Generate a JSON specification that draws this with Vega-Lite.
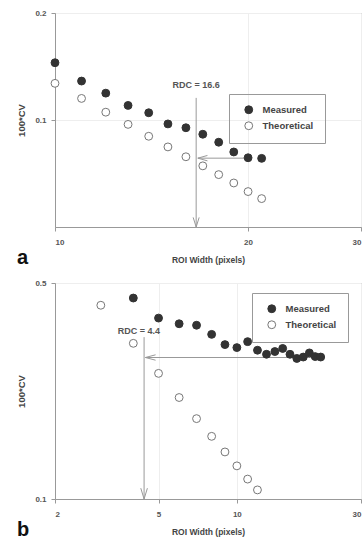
{
  "$schema": "https://vega.github.io/schema/vega-lite/v6.json",
  "padding": {"left": 16, "top": 8, "right": 0, "bottom": 0},
  "background": "white",
  "spacing": 10,
  "datasets": {
    "a_pts": [
      {"w": 10, "cv": 0.1449, "Series": "Measured"},
      {"w": 11, "cv": 0.1287, "Series": "Measured"},
      {"w": 12, "cv": 0.119, "Series": "Measured"},
      {"w": 13, "cv": 0.1099, "Series": "Measured"},
      {"w": 14, "cv": 0.1048, "Series": "Measured"},
      {"w": 15, "cv": 0.0975, "Series": "Measured"},
      {"w": 16, "cv": 0.0951, "Series": "Measured"},
      {"w": 17, "cv": 0.0912, "Series": "Measured"},
      {"w": 18, "cv": 0.0866, "Series": "Measured"},
      {"w": 19, "cv": 0.0813, "Series": "Measured"},
      {"w": 20, "cv": 0.0783, "Series": "Measured"},
      {"w": 21, "cv": 0.078, "Series": "Measured"},
      {"w": 10, "cv": 0.1268, "Series": "Theoretical"},
      {"w": 11, "cv": 0.115, "Series": "Theoretical"},
      {"w": 12, "cv": 0.1052, "Series": "Theoretical"},
      {"w": 13, "cv": 0.0972, "Series": "Theoretical"},
      {"w": 14, "cv": 0.09, "Series": "Theoretical"},
      {"w": 15, "cv": 0.084, "Series": "Theoretical"},
      {"w": 16, "cv": 0.0788, "Series": "Theoretical"},
      {"w": 17, "cv": 0.0743, "Series": "Theoretical"},
      {"w": 18, "cv": 0.0702, "Series": "Theoretical"},
      {"w": 19, "cv": 0.0665, "Series": "Theoretical"},
      {"w": 20, "cv": 0.0629, "Series": "Theoretical"},
      {"w": 21, "cv": 0.0601, "Series": "Theoretical"}
    ],
    "a_lines": [
      {"x1": 16.6, "y1": 0.1154, "x2": 16.6, "y2": 0.05},
      {"x1": 20, "y1": 0.0781, "x2": 16.7, "y2": 0.0781}
    ],
    "a_heads": [
      {"x": 16.6, "y": 0.05, "dir": "down"},
      {"x": 16.7, "y": 0.0781, "dir": "left"}
    ],
    "a_text": [{"x": 16.6, "y": 0.1254, "label": "RDC = 16.6"}],
    "b_pts": [
      {"w": 4, "cv": 0.447, "Series": "Measured"},
      {"w": 5, "cv": 0.385, "Series": "Measured"},
      {"w": 6, "cv": 0.369, "Series": "Measured"},
      {"w": 7, "cv": 0.365, "Series": "Measured"},
      {"w": 8, "cv": 0.341, "Series": "Measured"},
      {"w": 9, "cv": 0.316, "Series": "Measured"},
      {"w": 10, "cv": 0.309, "Series": "Measured"},
      {"w": 11, "cv": 0.323, "Series": "Measured"},
      {"w": 12, "cv": 0.303, "Series": "Measured"},
      {"w": 13, "cv": 0.294, "Series": "Measured"},
      {"w": 14, "cv": 0.3, "Series": "Measured"},
      {"w": 15, "cv": 0.307, "Series": "Measured"},
      {"w": 16, "cv": 0.294, "Series": "Measured"},
      {"w": 17, "cv": 0.285, "Series": "Measured"},
      {"w": 18, "cv": 0.288, "Series": "Measured"},
      {"w": 19, "cv": 0.297, "Series": "Measured"},
      {"w": 20, "cv": 0.289, "Series": "Measured"},
      {"w": 21, "cv": 0.288, "Series": "Measured"},
      {"w": 3, "cv": 0.4236, "Series": "Theoretical"},
      {"w": 4, "cv": 0.319, "Series": "Theoretical"},
      {"w": 5, "cv": 0.255, "Series": "Theoretical"},
      {"w": 6, "cv": 0.213, "Series": "Theoretical"},
      {"w": 7, "cv": 0.182, "Series": "Theoretical"},
      {"w": 8, "cv": 0.1595, "Series": "Theoretical"},
      {"w": 9, "cv": 0.142, "Series": "Theoretical"},
      {"w": 10, "cv": 0.128, "Series": "Theoretical"},
      {"w": 11, "cv": 0.116, "Series": "Theoretical"},
      {"w": 12, "cv": 0.107, "Series": "Theoretical"}
    ],
    "b_lines": [
      {"x1": 4.4, "y1": 0.334, "x2": 4.4, "y2": 0.1},
      {"x1": 21.5, "y1": 0.287, "x2": 4.45, "y2": 0.287}
    ],
    "b_heads": [
      {"x": 4.4, "y": 0.1, "dir": "down"},
      {"x": 4.45, "y": 0.287, "dir": "left"}
    ],
    "b_text": [{"x": 4.2, "y": 0.349, "label": "RDC = 4.4"}]
  },
  "vconcat": [
    {
      "width": 306,
      "height": 214,
      "title": {"text": "a", "orient": "bottom", "anchor": "start", "fontSize": 20, "fontWeight": "bold", "color": "#111", "font": "Liberation Sans", "offset": -16, "dx": 0},
      "layer": [
        {
          "data": {"name": "a_lines"},
          "mark": {"type": "rule", "color": "#999", "strokeWidth": 1},
          "encoding": {
            "x": {"field": "x1", "type": "quantitative", "scale": {"type": "log", "domain": [10, 30], "nice": false}, "axis": {"title": "ROI Width (pixels)", "values": [10, 20, 30]}},
            "y": {"field": "y1", "type": "quantitative", "scale": {"type": "log", "domain": [0.05, 0.2], "nice": false}, "axis": {"title": "100*CV", "values": [0.1, 0.2], "format": ".1f"}},
            "x2": {"field": "x2"},
            "y2": {"field": "y2"}
          }
        },
        {
          "data": {"name": "a_heads"},
          "mark": {"type": "point", "filled": false, "stroke": "#999", "strokeWidth": 1, "size": 144, "opacity": 1},
          "encoding": {
            "x": {"field": "x", "type": "quantitative"},
            "y": {"field": "y", "type": "quantitative"},
            "shape": {"field": "dir", "type": "nominal", "scale": {"domain": ["down", "left"], "range": ["M-0.5,-1.6L0,0L0.5,-1.6", "M1.6,-0.45L0,0L1.6,0.45"]}, "legend": null}
          }
        },
        {
          "data": {"name": "a_pts"},
          "mark": {"type": "point", "filled": true, "size": 62, "strokeWidth": 1, "opacity": 1},
          "encoding": {
            "x": {"field": "w", "type": "quantitative"},
            "y": {"field": "cv", "type": "quantitative"},
            "fill": {"field": "Series", "type": "nominal", "scale": {"domain": ["Measured", "Theoretical"], "range": ["#333333", "#ffffff"]}, "legend": {"title": null, "orient": "none", "legendX": 174, "legendY": 81}},
            "stroke": {"field": "Series", "type": "nominal", "scale": {"domain": ["Measured", "Theoretical"], "range": ["#333333", "#777777"]}, "legend": {"title": null, "orient": "none", "legendX": 174, "legendY": 81}}
          }
        },
        {
          "data": {"name": "a_text"},
          "mark": {"type": "text", "font": "Liberation Sans", "fontWeight": "bold", "fontSize": 9, "color": "#555", "baseline": "middle"},
          "encoding": {
            "x": {"field": "x", "type": "quantitative"},
            "y": {"field": "y", "type": "quantitative"},
            "text": {"field": "label"}
          }
        }
      ]
    },
    {
      "width": 306,
      "height": 216,
      "title": {"text": "b", "orient": "bottom", "anchor": "start", "fontSize": 20, "fontWeight": "bold", "color": "#111", "font": "Liberation Sans", "offset": -16, "dx": 0},
      "layer": [
        {
          "data": {"name": "b_lines"},
          "mark": {"type": "rule", "color": "#999", "strokeWidth": 1},
          "encoding": {
            "x": {"field": "x1", "type": "quantitative", "scale": {"type": "log", "domain": [2, 30], "nice": false}, "axis": {"title": "ROI Width (pixels)", "values": [2, 5, 10, 30]}},
            "y": {"field": "y1", "type": "quantitative", "scale": {"type": "log", "domain": [0.1, 0.5], "nice": false}, "axis": {"title": "100*CV", "values": [0.1, 0.5], "format": ".1f"}},
            "x2": {"field": "x2"},
            "y2": {"field": "y2"}
          }
        },
        {
          "data": {"name": "b_heads"},
          "mark": {"type": "point", "filled": false, "stroke": "#999", "strokeWidth": 1, "size": 144, "opacity": 1},
          "encoding": {
            "x": {"field": "x", "type": "quantitative"},
            "y": {"field": "y", "type": "quantitative"},
            "shape": {"field": "dir", "type": "nominal", "scale": {"domain": ["down", "left"], "range": ["M-0.55,-1.8L0,0L0.55,-1.8", "M1.7,-0.45L0,0L1.7,0.45"]}, "legend": null}
          }
        },
        {
          "data": {"name": "b_pts"},
          "mark": {"type": "point", "filled": true, "size": 62, "strokeWidth": 1, "opacity": 1},
          "encoding": {
            "x": {"field": "w", "type": "quantitative"},
            "y": {"field": "cv", "type": "quantitative"},
            "fill": {"field": "Series", "type": "nominal", "scale": {"domain": ["Measured", "Theoretical"], "range": ["#333333", "#ffffff"]}, "legend": {"title": null, "orient": "none", "legendX": 197, "legendY": 10}},
            "stroke": {"field": "Series", "type": "nominal", "scale": {"domain": ["Measured", "Theoretical"], "range": ["#333333", "#777777"]}, "legend": {"title": null, "orient": "none", "legendX": 197, "legendY": 10}}
          }
        },
        {
          "data": {"name": "b_text"},
          "mark": {"type": "text", "font": "Liberation Sans", "fontWeight": "bold", "fontSize": 9, "color": "#555", "baseline": "middle"},
          "encoding": {
            "x": {"field": "x", "type": "quantitative"},
            "y": {"field": "y", "type": "quantitative"},
            "text": {"field": "label"}
          }
        }
      ]
    }
  ],
  "resolve": {
    "scale": {"x": "independent", "y": "independent", "fill": "independent", "stroke": "independent", "shape": "independent"},
    "legend": {"fill": "independent", "stroke": "independent"}
  },
  "config": {
    "view": {"stroke": "#999", "strokeWidth": 1},
    "font": "Liberation Sans",
    "axis": {
      "labelFont": "Liberation Sans",
      "labelFontWeight": "bold",
      "labelFontSize": 8,
      "labelColor": "#555",
      "titleFont": "Liberation Sans",
      "titleFontWeight": "bold",
      "titleFontSize": 8.5,
      "titleColor": "#444",
      "domainColor": "#999",
      "tickColor": "#999",
      "tickSize": 4,
      "gridColor": "#eeeeee",
      "grid": true
    },
    "axisX": {"labelPadding": 7, "titlePadding": 9, "labelFlush": true},
    "axisY": {"labelPadding": 5, "titlePadding": 8, "titleFontSize": 9.5},
    "title": {"font": "Liberation Sans"},
    "legend": {
      "strokeColor": "#999",
      "padding": 11,
      "symbolOffset": 4,
      "symbolSize": 62,
      "symbolStrokeWidth": 1,
      "symbolType": "circle",
      "labelFont": "Liberation Sans",
      "labelFontWeight": "bold",
      "labelFontSize": 9.5,
      "labelColor": "#444",
      "labelOffset": 9,
      "rowPadding": 3
    }
  }
}
